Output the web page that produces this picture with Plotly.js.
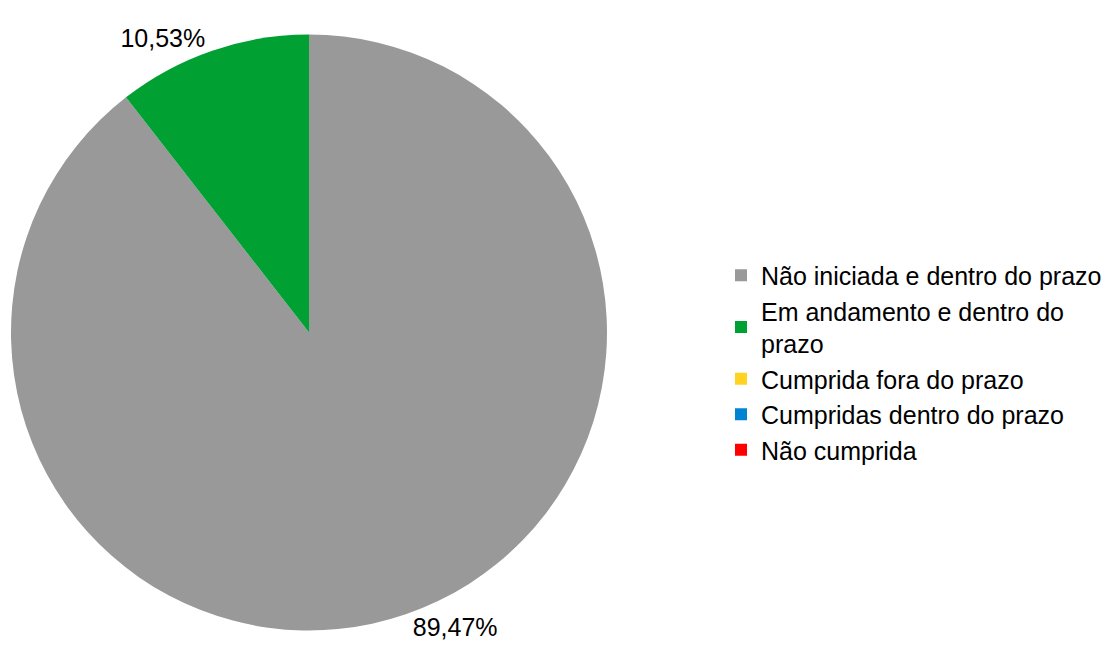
<!DOCTYPE html>
<html>
<head>
<meta charset="utf-8">
<script src="https://cdn.plot.ly/plotly-3.0.1.min.js"></script>
<style>html,body{margin:0;padding:0;background:#fff;}#chart{width:1116px;height:651px;}</style>
</head>
<body>
<div id="chart"></div>
<script>
const categories = [
  "Não iniciada e dentro do prazo",
  "Em andamento e dentro do<br>prazo",
  "Cumprida fora do prazo",
  "Cumpridas dentro do prazo",
  "Não cumprida"
];
const values = [17, 2, 0, 0, 0];
const colors = ["#999999", "#00a033", "#ffd320", "#0084d1", "#ff0000"];

const trace = {
  type: "pie",
  labels: categories,
  values: values,
  marker: { colors: colors, line: { width: 0 } },
  sort: false,
  direction: "clockwise",
  rotation: 0,
  textposition: "outside",
  texttemplate: values.map(v => v > 0 ? "%{percent:.2%}" : ""),
  textfont: { family: "Liberation Sans, Arial, sans-serif", size: 25, color: "#000" },
  domain: { x: [11/1116, 607/1116], y: [20/651, 617/651] },
  hoverinfo: "label+percent",
  showlegend: true
};

const layout = {
  width: 1116,
  height: 651,
  margin: { l: 0, r: 0, t: 0, b: 0 },
  paper_bgcolor: "#fff",
  separators: ",.",
  font: { family: "Liberation Sans, Arial, sans-serif", size: 25, color: "#000" },
  showlegend: true,
  legend: {
    x: 721/1116, xanchor: "left",
    y: 0.443, yanchor: "middle",
    font: { size: 25, color: "#000" },
    bgcolor: "rgba(0,0,0,0)"
  }
};

Plotly.newPlot("chart", [trace], layout, { displayModeBar: false, staticPlot: true });
</script>
</body>
</html>
